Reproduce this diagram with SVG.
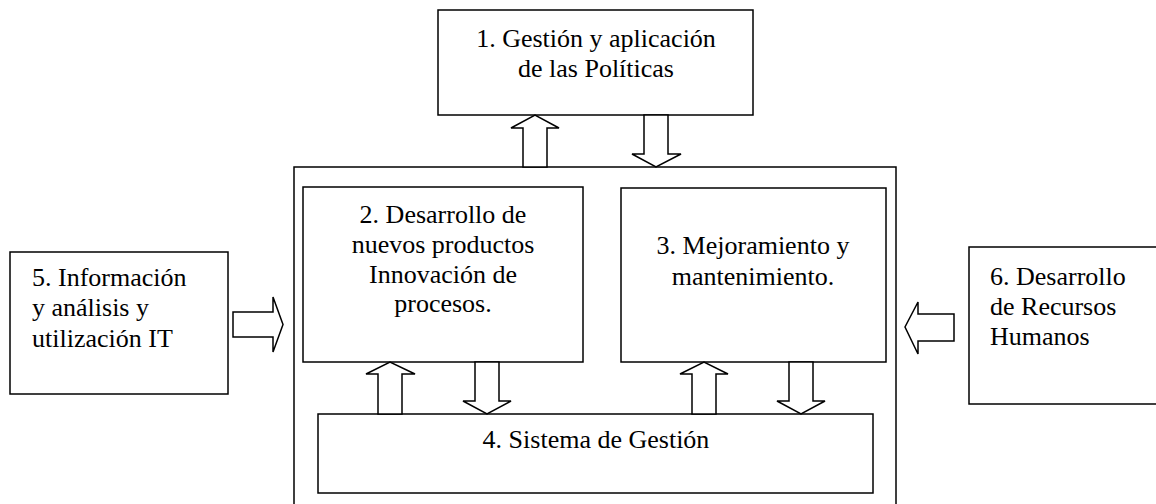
<svg xmlns="http://www.w3.org/2000/svg" width="1156" height="504" viewBox="0 0 1156 504">
<style>
.box{fill:#fff;stroke:#000;stroke-width:1.5}
.arr{fill:#fff;stroke:#000;stroke-width:1.5;stroke-linejoin:miter}
.t{font-family:'Liberation Serif','DejaVu Serif',serif;font-size:26px;fill:#000}
.c{text-anchor:middle}
</style>
<rect width="1156" height="504" fill="#fff"/>
<g id="main-frame"><rect class="box" x="294" y="167" width="602" height="345"/></g>
<g id="node1">
<rect class="box" x="438" y="10" width="315" height="105"/>
<text class="t c" x="596" y="47">1. Gestión y aplicación</text>
<text class="t c" x="596" y="77">de las Políticas</text>
</g>
<g id="node2">
<rect class="box" x="303" y="187" width="280" height="175"/>
<text class="t c" x="443" y="223">2. Desarrollo de</text>
<text class="t c" x="443" y="253">nuevos productos</text>
<text class="t c" x="443" y="283">Innovación de</text>
<text class="t c" x="443" y="312">procesos.</text>
</g>
<g id="node3">
<rect class="box" x="621" y="188" width="265" height="174"/>
<text class="t c" x="753" y="254">3. Mejoramiento y</text>
<text class="t c" x="753" y="285">mantenimiento.</text>
</g>
<g id="node4">
<rect class="box" x="318" y="414" width="555" height="79"/>
<text class="t c" x="596" y="448">4. Sistema de Gestión</text>
</g>
<g id="node5">
<rect class="box" x="10" y="252" width="218" height="142"/>
<text class="t" x="32" y="286">5. Información</text>
<text class="t" x="32" y="316">y análisis y</text>
<text class="t" x="32" y="347">utilización IT</text>
</g>
<g id="node6">
<rect class="box" x="969" y="247" width="200" height="157"/>
<text class="t" x="990" y="285">6. Desarrollo</text>
<text class="t" x="990" y="315">de Recursos</text>
<text class="t" x="990" y="345">Humanos</text>
</g>
<g id="connectors">
<polygon class="arr" points="523,167 523,128 511,128 535,115 559,128 547,128 547,167"/>
<polygon class="arr" points="644,115 668,115 668,154 681,154 656,167 632,154 644,154"/>
<polygon class="arr" points="233,312 273,312 273,297 283,324.5 273,352 273,337 233,337"/>
<polygon class="arr" points="954,314 918,314 918,302 905,327 918,354 918,341 954,341"/>
<polygon class="arr" points="378,414 378,374 366,374 390,362 415,374 402,374 402,414"/>
<polygon class="arr" points="475,362 499,362 499,401 511,401 487,414 463,401 475,401"/>
<polygon class="arr" points="692,414 692,374 680,374 704,362 728,374 716,374 716,414"/>
<polygon class="arr" points="789,362 813,362 813,401 825,401 801,414 777,401 789,401"/>
</g>
</svg>
